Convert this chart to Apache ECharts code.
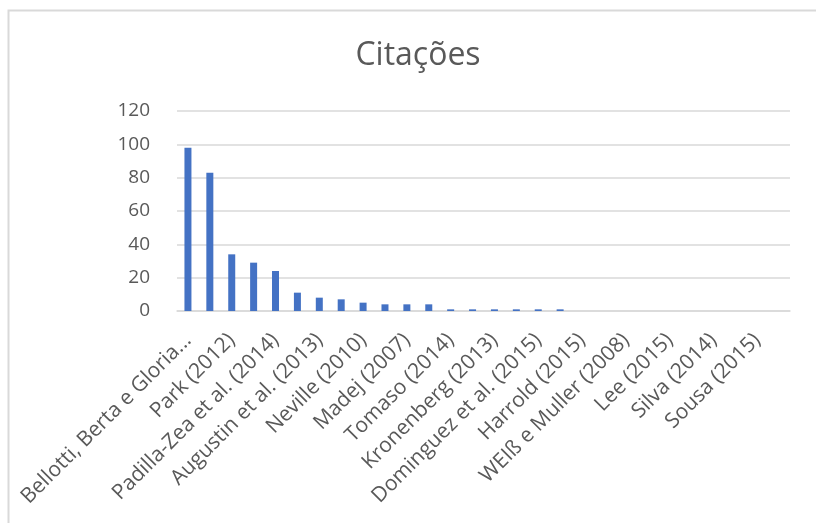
<!DOCTYPE html>
<html>
<head>
<meta charset="utf-8">
<script src="https://cdn.jsdelivr.net/npm/echarts@6/dist/echarts.min.js"></script>
<style>
html,body{margin:0;padding:0;background:#fff;}
#c{width:816px;height:523px;}
</style>
</head>
<body>
<div id="c"></div>
<script>
// Only every other category name is visible in the reference; hidden ones left blank
const categories = [
  "Bellotti, Berta e Gloria...", "", "Park (2012)", "", "Padilla-Zea et al. (2014)", "",
  "Augustin et al. (2013)", "", "Neville (2010)", "", "Madej (2007)", "",
  "Tomaso (2014)", "", "Kronenberg (2013)", "", "Dominguez et al. (2015)", "",
  "Harrold (2015)", "", "WEIß e Muller (2008)", "", "Lee (2015)", "",
  "Silva (2014)", "", "Sousa (2015)", ""
];
const citations = [98, 83, 34, 29, 24, 11, 8, 7, 5, 4, 4, 4, 1, 1, 1, 1, 1, 1, 0, 0, 0, 0, 0, 0, 0, 0, 0, 0];
const yTicks = [0, 20, 40, 60, 80, 100, 120];

const chart = echarts.init(document.getElementById('c'), null, {renderer: 'canvas'});
const font = '"Open Sans", "Noto Sans", sans-serif';
chart.setOption({
  animation: false,
  backgroundColor: '#ffffff',
  graphic: [{
    type: 'rect',
    shape: {x: 8.5, y: 10.5, width: 900, height: 600},
    style: {fill: 'none', stroke: '#d9d9d9', lineWidth: 2},
    silent: true
  }],
  title: {
    text: 'Citações',
    left: 413,
    textAlign: 'center',
    top: 35,
    textStyle: {fontFamily: font, fontSize: 32, fontWeight: 'normal', color: '#595959'}
  },
  grid: {left: 177, right: 26, top: 111, bottom: 212, containLabel: false},
  xAxis: {
    type: 'category',
    data: categories,
    axisLine: {lineStyle: {color: '#d9d9d9', width: 1.5}},
    axisTick: {show: false},
    axisLabel: {
      interval: 1,
      rotate: 45,
      margin: 26,
      fontFamily: font,
      fontSize: 21,
      color: '#595959'
    }
  },
  yAxis: {
    type: 'value',
    min: yTicks[0],
    max: yTicks[yTicks.length - 1],
    interval: 20,
    axisLine: {show: false},
    axisTick: {show: false},
    splitLine: {lineStyle: {color: '#d9d9d9', width: 1.5}},
    axisLabel: {fontFamily: font, fontSize: 19, color: '#595959', margin: 27}
  },
  series: [{
    type: 'bar',
    data: citations,
    barWidth: 7,
    itemStyle: {color: '#4472C4'}
  }]
});
</script>
</body>
</html>
